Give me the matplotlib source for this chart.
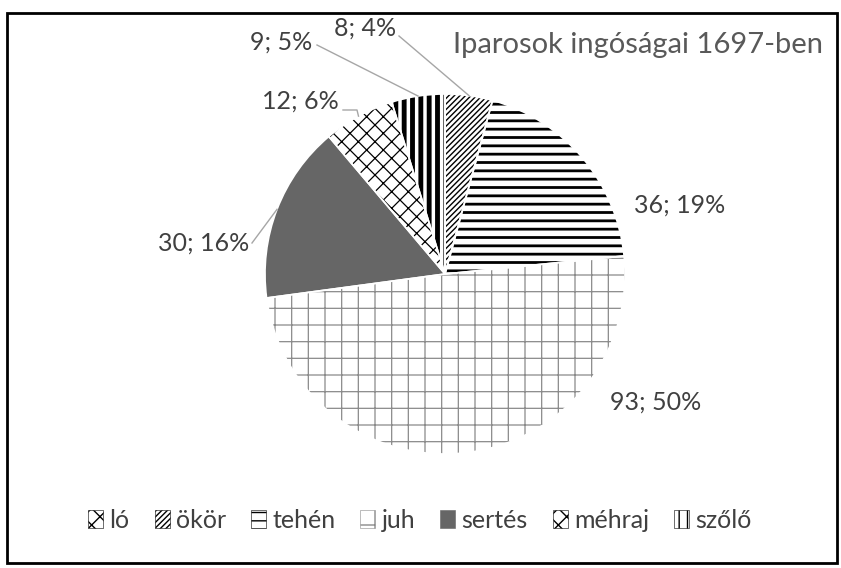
import matplotlib
matplotlib.use("Agg")
import matplotlib.pyplot as plt
from matplotlib.patches import Patch, Rectangle
import numpy as np

# data
categories = ['ló', 'ökör', 'tehén', 'juh', 'sertés', 'méhraj', 'szőlő']
values = [0, 8, 36, 93, 30, 12, 9]
percents = [0, 4, 19, 50, 16, 6, 5]
title = 'Iparosok ingóságai 1697-ben'

# pattern fills (black & white Excel style)
faces = ['white', 'white', 'white', 'white', '#666666', 'white', 'white']
hatch_cols = ['black', 'black', 'black', '#8a8a8a', '#666666', 'black', 'black']
hatches = ['xx', '//////', '--', '+', '', 'xx', '||']
hatch_lws = [1.0, 1.0, 2.0, 0.9, 1.0, 0.9, 3.5]

plt.rcParams['font.family'] = ['Lato', 'DejaVu Sans']
plt.rcParams['hatch.linewidth'] = 1.0

# does this matplotlib know a separate hatch colour?
try:
    Patch(hatchcolor='k')
    has_hc = True
except Exception:
    has_hc = False

W, H = 841, 568
fig = plt.figure(figsize=(W / 100, H / 100), dpi=100)

cx, cy, r = 445, 274, 180
ax = fig.add_axes([(cx - r) / W, (H - cy - r) / H, 2 * r / W, 2 * r / H])

wedges, _ = ax.pie(values, startangle=90, counterclock=False, radius=1,
                   wedgeprops=dict(linewidth=0))
for w, fc, hc, hp, hl in zip(wedges, faces, hatch_cols, hatches, hatch_lws):
    w.set_facecolor(fc)
    w.set_edgecolor(hc)
    w.set_hatch(hp)
    if hasattr(w, 'set_hatch_linewidth'):
        w.set_hatch_linewidth(hl)
# thin white gaps between the slices
ax.pie(values, startangle=90, counterclock=False, radius=1,
       wedgeprops=dict(fill=False, edgecolor='white', linewidth=1.2))
ax.set_xlim(-1, 1)
ax.set_ylim(-1, 1)
ax.axis('off')


def px(x, y):
    return (x - cx) / r, (cy - y) / r


# label positions (pixels), alignment and leader-line bend points
label_pos = {
    1: ((396, 28), 'right', [(399, 36)]),
    2: ((680, 205), 'center', None),
    3: ((610, 402), 'left', None),
    4: ((249, 243), 'right', [(252, 243)]),
    5: ((300, 101), 'center', [(343, 110), (357, 110)]),
    6: ((312, 42), 'right', [(317, 45)]),
}
lab_color = '#404040'
for i, ((lx, ly), ha, bends) in label_pos.items():
    tx, ty = px(lx, ly)
    ax.text(tx, ty, f'{values[i]}; {percents[i]}%', ha=ha, va='center',
            fontsize=18, color=lab_color, clip_on=False)
    if bends:
        w = wedges[i]
        mid = np.deg2rad((w.theta1 + w.theta2) / 2)
        pts = [px(bx, by) for bx, by in bends] + [(np.cos(mid), np.sin(mid))]
        ax.plot([p[0] for p in pts], [p[1] for p in pts], color='#a6a6a6',
                lw=1, clip_on=False)

fig.text(638 / W, 1 - 45 / H, title, ha='center', va='center',
         fontsize=21, color='#595959')

handles = []
for fc, hc, hp in zip(faces, hatch_cols, hatches):
    if has_hc:
        handles.append(Patch(facecolor=fc, edgecolor='#c8c8c8', hatchcolor=hc,
                             hatch=hp, linewidth=0.6))
    else:
        handles.append(Patch(facecolor=fc, edgecolor=hc, hatch=hp, linewidth=0.4))
fig.legend(handles, categories, loc='center', bbox_to_anchor=(420 / W, 1 - 520 / H),
           ncol=7, frameon=False, fontsize=18, handlelength=0.6, handleheight=0.7,
           handletextpad=0.25, columnspacing=1.0, labelcolor='#404040')

# outer border of the chart
fig.add_artist(Rectangle((7 / W, 1 - 563 / H), 830 / W, 550 / H, fill=False,
                         edgecolor='black', linewidth=2, transform=fig.transFigure))

fig.savefig('out.png', dpi=100)
